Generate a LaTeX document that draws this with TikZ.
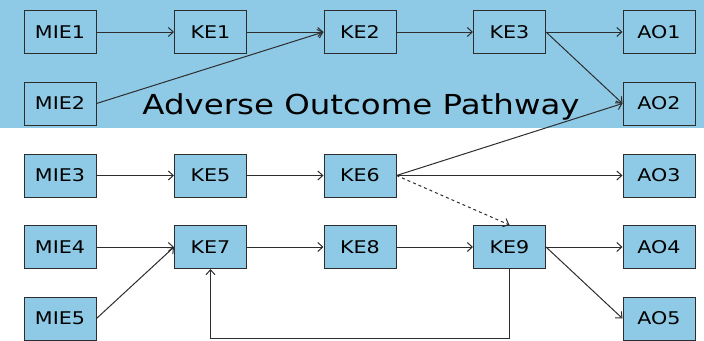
\documentclass[tikz,border=0pt]{standalone}
\usepackage{fontspec}
\setmainfont{DejaVu Sans}[FakeStretch=1.18]
\usetikzlibrary{arrows.meta}
\definecolor{aopblue}{RGB}{142,202,230}
\definecolor{edgegray}{RGB}{45,45,45}
\begin{document}
\begin{tikzpicture}[x=1pt,y=-1pt,
  box/.style={draw=edgegray,line width=1pt,fill=aopblue,minimum width=72pt,minimum height=43pt,inner sep=0pt,font=\fontsize{17.5}{20}\selectfont},
  conn/.style={draw=edgegray,line width=1pt,-{Straight Barb[length=5pt,width=9pt]}}]
\useasboundingbox (0,0) rectangle (704,340);
\fill[aopblue] (0,0) rectangle (704,128);
\node[font=\fontsize{27.5}{32}\selectfont,anchor=base] (title) at (361,114) {Adverse Outcome Pathway};
\node[box] (mie1) at (60,32) {MIE1};
\node[box] (mie2) at (60,103.5) {MIE2};
\node[box] (mie3) at (60,175.5) {MIE3};
\node[box] (mie4) at (60,247) {MIE4};
\node[box] (mie5) at (60,318.5) {MIE5};
\node[box] (ke1) at (210.5,32) {KE1};
\node[box] (ke2) at (360,32) {KE2};
\node[box] (ke3) at (509.5,32) {KE3};
\node[box] (ke5) at (210.5,175.5) {KE5};
\node[box] (ke6) at (360,175.5) {KE6};
\node[box] (ke7) at (210.5,247) {KE7};
\node[box] (ke8) at (360,247) {KE8};
\node[box] (ke9) at (509.5,247) {KE9};
\node[box] (ao1) at (659,32) {AO1};
\node[box] (ao2) at (659,103.5) {AO2};
\node[box] (ao3) at (659,175.5) {AO3};
\node[box] (ao4) at (659,247) {AO4};
\node[box] (ao5) at (659,318.5) {AO5};
\draw[conn] (mie1) -- (ke1);
\draw[conn] (ke1) -- (ke2);
\draw[conn] (mie2.east) -- (ke2.west);
\draw[conn] (ke2) -- (ke3);
\draw[conn] (ke3) -- (ao1);
\draw[conn] (ke3.east) -- (ao2.west);
\draw[conn] (ke6.east) -- (ao2.west);
\draw[conn] (ke6) -- (ao3);
\draw[conn,dashed] (ke6.east) -- (ke9.north);
\draw[conn] (mie3) -- (ke5);
\draw[conn] (ke5) -- (ke6);
\draw[conn] (mie4) -- (ke7);
\draw[conn] (mie5.east) -- (ke7.west);
\draw[conn] (ke7) -- (ke8);
\draw[conn] (ke8) -- (ke9);
\draw[conn] (ke9) -- (ao4);
\draw[conn] (ke9.east) -- (ao5.west);
\draw[conn] (ke9.south) -- ++(0,69) -| (ke7.south);
\end{tikzpicture}
\end{document}
